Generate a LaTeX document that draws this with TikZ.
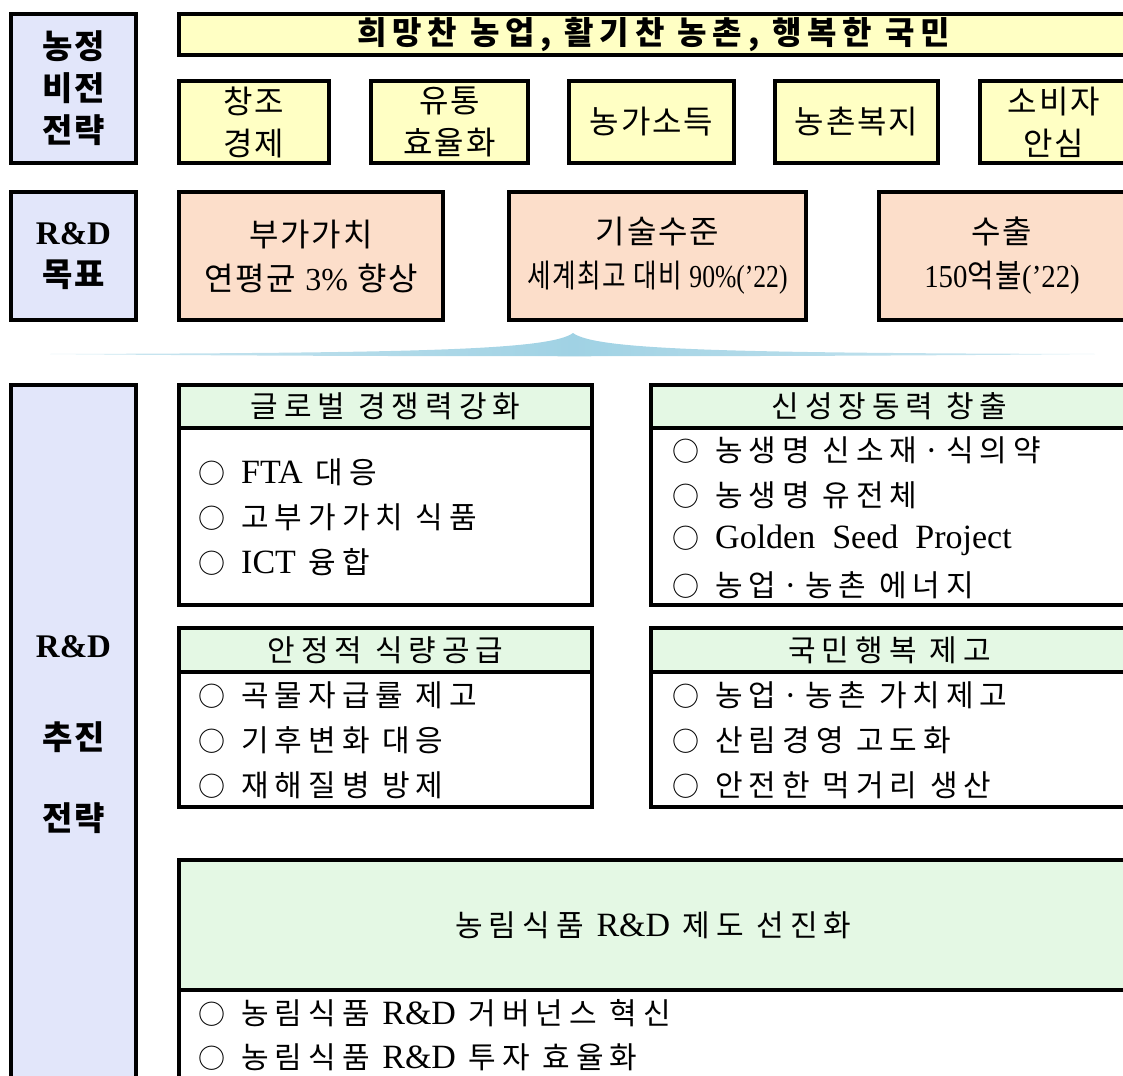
\documentclass[tikz,border=0pt]{standalone}
\usepackage{fontspec}
\usepackage{graphicx}
\setmainfont{Liberation Serif}
\newfontfamily\kr{Noto Sans CJK KR}
\newfontfamily\krsp{Noto Sans CJK KR}[LetterSpace=20]
\newfontfamily\krsm{Noto Sans CJK KR}[LetterSpace=6]
\newfontfamily\krbn{Noto Sans CJK KR}[LetterSpace=18]
\usetikzlibrary{positioning}

\definecolor{visfill}{RGB}{226,230,250}
\definecolor{yelfill}{RGB}{255,255,196}
\definecolor{peachfill}{RGB}{252,222,202}
\definecolor{mintfill}{RGB}{228,248,228}
\definecolor{swblue}{RGB}{160,210,228}

\pgfdeclarehorizontalshading{swoosh}{100bp}{color(0bp)=(white); color(50bp)=(swblue); color(100bp)=(white)}

\newcommand{\lat}[1]{{\rmfamily #1}}
\newcommand{\biglat}[1]{{\rmfamily\fontsize{34}{40}\selectfont #1}}
\newcommand{\bul}{{\kr\fontsize{27}{27}\selectfont ○}\hspace{16pt}}

\tikzset{
    frame/.style={draw=black, line width=4pt, inner sep=0pt, align=center},
    leftbox/.style={frame, fill=visfill, minimum width=125pt,
        font={\krsm\bfseries\fontsize{33}{42}\selectfont}},
    visionbox/.style={frame, fill=yelfill, minimum height=82pt,
        font={\krsm\fontsize{32}{42}\selectfont}},
    goalbox/.style={frame, fill=peachfill, minimum height=128pt,
        font={\krsm\fontsize{32}{44}\selectfont}},
    headbox/.style={frame, fill=mintfill, font={\krsp\fontsize{30}{40}\selectfont}},
    listbox/.style={frame, fill=white},
    listitem/.style={anchor=west, inner sep=0pt, font={\krsp\fontsize{30}{40}\selectfont}},
}

\begin{document}
\begin{tikzpicture}[x=1pt,y=-1pt]

    \useasboundingbox (0,0) rectangle (1123,1075);
    \clip (0,0) rectangle (1123,1075);

    % Left column labels.
    \node[leftbox, minimum height=149pt] (vis) at (73.5,88.5) {농정\\비전\\전략};
    \node[leftbox, minimum height=128pt] (goal) at (73.5,256)
        {\lat{\bfseries\fontsize{33}{42}\selectfont R\&D}\\목표};
    \node[leftbox, minimum height=715pt] (strat) at (73.5,742.5) {};
    \node[font={\rmfamily\bfseries\fontsize{33}{40}\selectfont}] (stratA) at (73.5,647) {R\&D};
    \node[font={\krsm\bfseries\fontsize{33}{40}\selectfont}] (stratB) at (73.5,737) {추진};
    \node[font={\krsm\bfseries\fontsize{33}{40}\selectfont}] (stratC) at (73.5,818) {전략};

    % Vision banner and strategies.
    \node[visionbox, minimum width=949pt, minimum height=41pt,
        font={\krbn\bfseries\fontsize{32}{40}\selectfont}] (banner) at (653.5,34.5)
        {희망찬 농업, 활기찬 농촌, 행복한 국민};
    \node[visionbox, minimum width=150pt] (creat) at (254,122) {창조\\경제};
    \node[visionbox, minimum width=157pt] (dist) at (449.5,122) {유통\\효율화};
    \node[visionbox, minimum width=165pt] (income) at (651.5,122) {농가소득};
    \node[visionbox, minimum width=163pt] (welf) at (856.5,122) {농촌복지};
    \node[visionbox, minimum width=148pt] (cons) at (1054,122) {소비자\\안심};

    % R&D goals.
    \node[goalbox, minimum width=264pt] (added) at (311,256)
        {부가가치\\연평균 \lat{3\%} 향상};
    \node[goalbox, minimum width=297pt] (tech) at (657.5,256)
        {기술수준\\\scalebox{0.8}[1]{세계최고 대비 \lat{90\%('22)}}};
    \node[goalbox, minimum width=246pt] (expo) at (1002,256)
        {수출\\\scalebox{0.9}[1]{\lat{150}억불\lat{('22)}}};

    % Divider swoosh.
    \shade[shading=swoosh] (50,354) .. controls (420,353) and (550,350) .. (573,333)
        .. controls (596,350) and (726,353) .. (1095,354)
        .. controls (800,357) and (350,357) .. (50,354) -- cycle;

    % Strategy boxes.
    \node[headbox, minimum width=413pt, minimum height=43pt] (globH) at (385.5,406.5) {글로벌 경쟁력강화};
    \node[listbox, minimum width=413pt, minimum height=177pt] (globL) at (385.5,516.5) {};
    \node[headbox, minimum width=477pt, minimum height=43pt] (growH) at (889.5,406.5) {신성장동력 창출};
    \node[listbox, minimum width=477pt, minimum height=177pt] (growL) at (889.5,516.5) {};
    \node[headbox, minimum width=413pt, minimum height=44pt] (foodH) at (385.5,650) {안정적 식량공급};
    \node[listbox, minimum width=413pt, minimum height=135pt] (foodL) at (385.5,739.5) {};
    \node[headbox, minimum width=477pt, minimum height=44pt] (hapH) at (889.5,650) {국민행복 제고};
    \node[listbox, minimum width=477pt, minimum height=135pt] (hapL) at (889.5,739.5) {};
    \node[headbox, minimum width=949pt, minimum height=130pt] (sysH) at (653.5,925) {농림식품 \biglat{R\&D} 제도 선진화};
    \node[listbox, minimum width=949pt, minimum height=110pt] (sysL) at (653.5,1045) {};

    % List items.
    \foreach \t [count=\i] in {{\biglat{FTA} 대응}, {고부가가치 식품}, {\biglat{ICT} 융합}}
        \node[listitem] (glob\i) at (198,427+45*\i) {\bul\t};
    \foreach \t [count=\i] in {{농생명 신소재·식의약}, {농생명 유전체},
            {\biglat{Golden\ \ Seed\ \ Project}}, {농업·농촌 에너지}}
        \node[listitem] (grow\i) at (672,405+45*\i) {\bul\t};
    \foreach \t [count=\i] in {{곡물자급률 제고}, {기후변화 대응}, {재해질병 방제}}
        \node[listitem] (food\i) at (198,650+45*\i) {\bul\t};
    \foreach \t [count=\i] in {{농업·농촌 가치제고}, {산림경영 고도화}, {안전한 먹거리 생산}}
        \node[listitem] (hap\i) at (672,650+45*\i) {\bul\t};
    \foreach \t [count=\i] in {{농림식품 \biglat{R\&D} 거버넌스 혁신}, {농림식품 \biglat{R\&D} 투자 효율화}}
        \node[listitem] (sys\i) at (198,969+44*\i) {\bul\t};

\end{tikzpicture}
\end{document}
